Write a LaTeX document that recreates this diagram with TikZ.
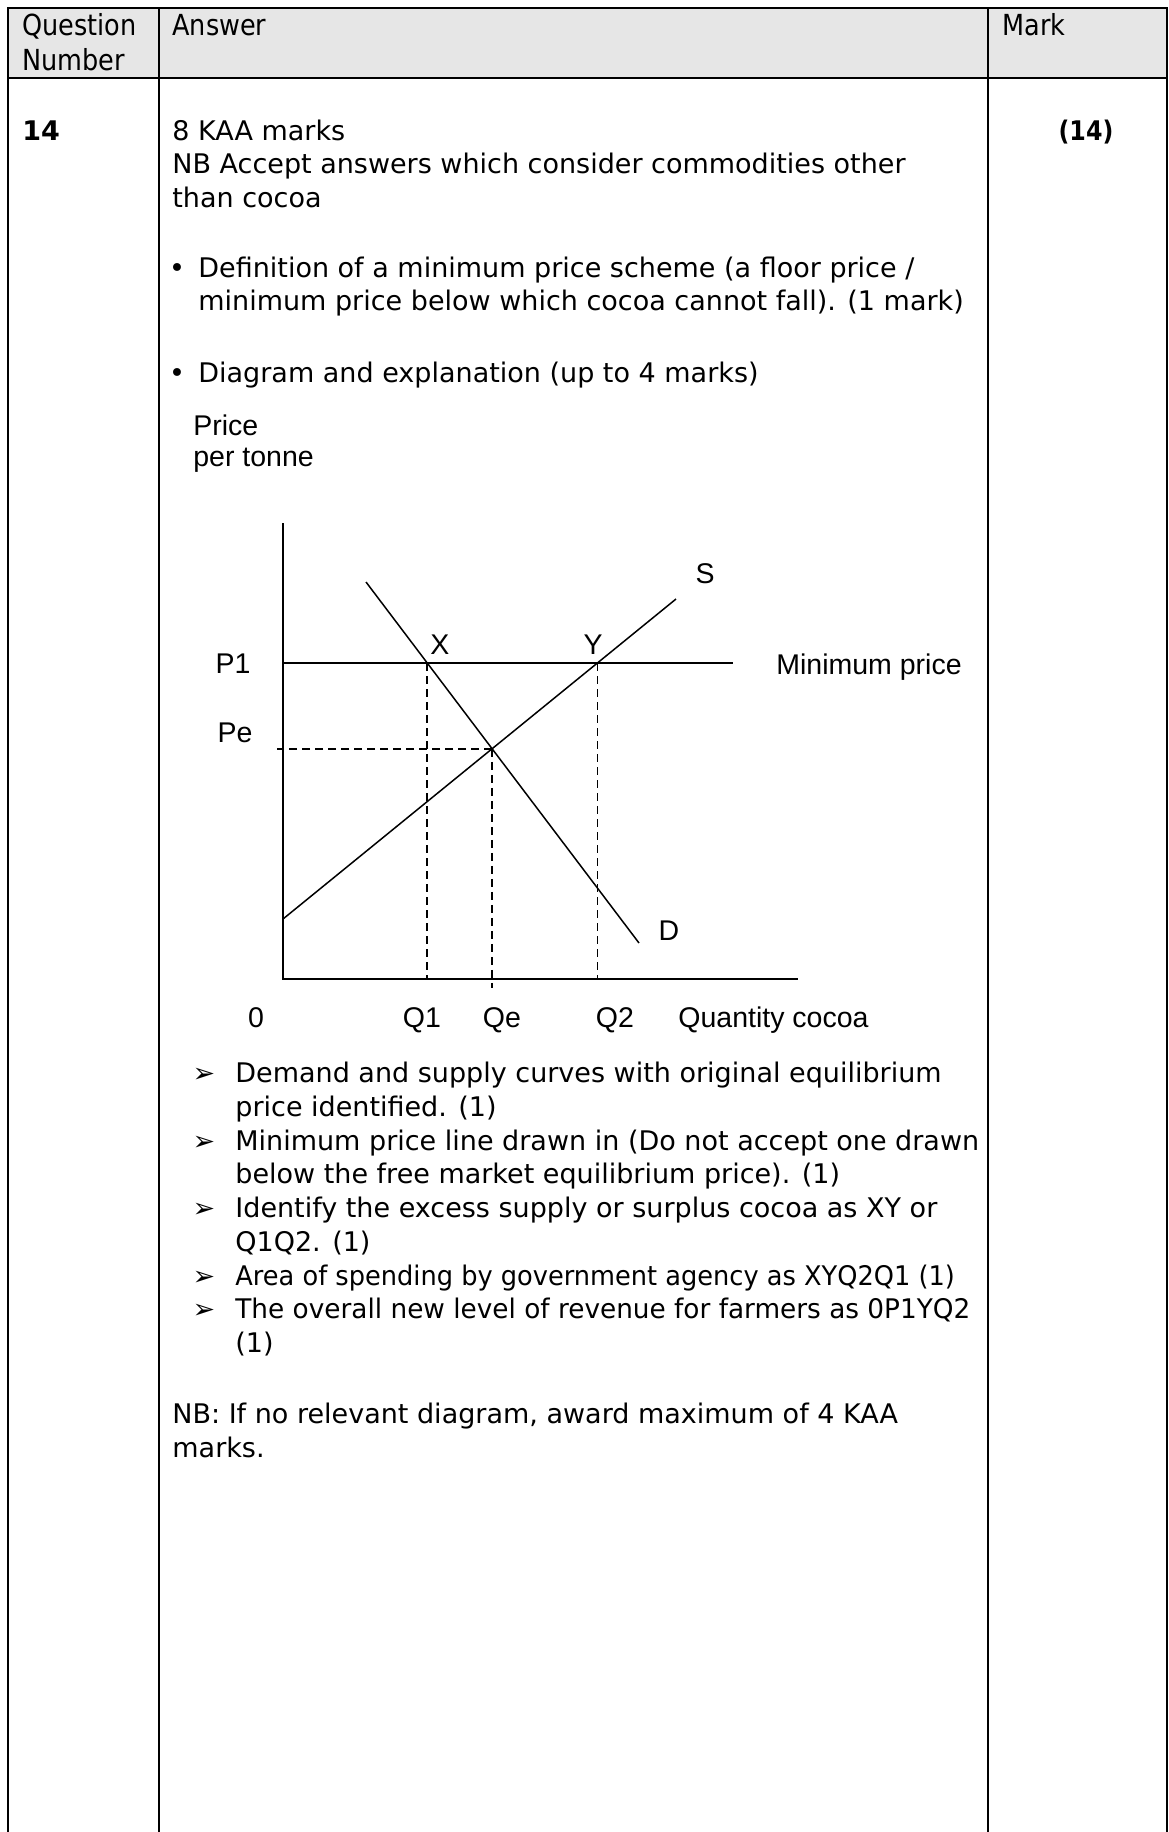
\documentclass[tikz,border=0pt]{standalone}
\usepackage{fontspec}
\setmainfont{DejaVu Sans}
\newfontfamily\chartfont{Liberation Sans}
\newfontfamily\hdrfont{DejaVu Sans}[FakeStretch=0.88]
\definecolor{hdrgray}{HTML}{E6E6E6}
\begin{document}
\begin{tikzpicture}[x=0.5pt,y=-0.5pt,
  body/.style={font=\fontsize{13.5}{16}\selectfont, anchor=base west, inner sep=0pt},
  hdr/.style={font=\hdrfont\fontsize{14.5}{17}\selectfont, anchor=base west, inner sep=0pt},
  lbl/.style={font=\chartfont\fontsize{14.25}{16}\selectfont, inner sep=0pt, anchor=base},
  lblw/.style={font=\chartfont\fontsize{14.25}{16}\selectfont, inner sep=0pt, anchor=base west},
  chartline/.style={line width=0.75pt},
  guide/.style={line width=0.8pt, dash pattern=on 4pt off 2.5pt},
  tablerule/.style={line width=1.2pt}]
\useasboundingbox (0,0) rectangle (1168,1832);
% table
\fill[hdrgray] (8,8) rectangle (1167,78);
\draw[tablerule] (8,1832) -- (8,8) -- (1167,8) -- (1167,1832);
\draw[tablerule] (8,78) -- (1167,78);
\draw[tablerule] (159,8) -- (159,1832);
\draw[tablerule] (988,8) -- (988,1832);
% header
\node[hdr] (hq1) at (22,35.5) {Question};
\node[hdr] (hq2) at (22,70.5) {Number};
\node[hdr] (ha) at (172,35.5) {Answer};
\node[hdr] (hm) at (1002,35.5) {Mark};
% question number and mark
\node[font=\bfseries\fontsize{13.5}{16}\selectfont, inner sep=0pt, anchor=base west] (qn) at (22,140) {14};
\node[font=\hdrfont\bfseries\fontsize{13.5}{16}\selectfont, inner sep=0pt, anchor=base] (mk) at (1086,140) {(14)};
% answer text
\node[body] (t1) at (172,140) {8 KAA marks};
\node[body] (t2) at (172,173) {NB Accept answers which consider commodities other};
\node[body] (t3) at (172,207) {than cocoa};
\node[body, anchor=base] (bul1) at (177,277) {•};
\node[body] (t4) at (198,277) {Definition of a minimum price scheme (a floor price /};
\node[body] (t5) at (198,310) {minimum price below which cocoa cannot fall). (1 mark)};
\node[body, anchor=base] (bul2) at (177,382) {•};
\node[body] (t6) at (198,382) {Diagram and explanation (up to 4 marks)};
% chart
\node[lblw] (price1) at (193,435) {Price};
\node[lblw] (price2) at (193,466) {per tonne};
\coordinate (O) at (283,979);
\coordinate (Ytop) at (283,523);
\coordinate (Xend) at (798,979);
\coordinate (P1l) at (283,663);
\coordinate (P1r) at (733,663);
\coordinate (S0) at (283,919);
\coordinate (S1) at (676,599);
\coordinate (D0) at (366,582);
\coordinate (D1) at (639,943);
\coordinate (PeL) at (277,0);
\coordinate (QeB) at (0,988);
\coordinate (X) at (intersection of D0--D1 and P1l--P1r);
\coordinate (Y) at (intersection of S0--S1 and P1l--P1r);
\coordinate (E) at (intersection of S0--S1 and D0--D1);
\draw[guide] (E) -- (E -| PeL);
\draw[guide] (X) -- (X |- O);
\draw[guide] (Y) -- (Y |- O);
\draw[guide] (E) -- (E |- QeB);
\draw[chartline] (Ytop) -- (O) -- (Xend);
\draw[chartline] (P1l) -- (P1r);
\draw[chartline] (S0) -- (S1);
\draw[chartline] (D0) -- (D1);
\node[lbl] (lP1) at (233,673) {P1};
\node[lbl] (lPe) at (235,742) {Pe};
\node[lbl] (lX) at (440,654) {X};
\node[lbl] (lY) at (593,654) {Y};
\node[lbl] (lS) at (705,583) {S};
\node[lbl] (lD) at (669,940) {D};
\node[lblw] (lMin) at (776,674) {Minimum price};
\node[lbl] (l0) at (256,1027) {0};
\node[lbl] (lQ1) at (422,1027) {Q1};
\node[lbl] (lQe) at (502,1027) {Qe};
\node[lbl] (lQ2) at (615,1027) {Q2};
\node[lblw] (lQty) at (678,1027) {Quantity cocoa};
% criteria list
\node[body, anchor=base] (a1) at (204,1082) {➢};
\node[body] (c1) at (235,1082) {Demand and supply curves with original equilibrium};
\node[body] (c2) at (235,1116) {price identified. (1)};
\node[body, anchor=base] (a2) at (204,1150) {➢};
\node[body] (c3) at (235,1150) {Minimum price line drawn in (Do not accept one drawn};
\node[body] (c4) at (235,1183) {below the free market equilibrium price). (1)};
\node[body, anchor=base] (a3) at (204,1217) {➢};
\node[body] (c5) at (235,1217) {Identify the excess supply or surplus cocoa as XY or};
\node[body] (c6) at (235,1251) {Q1Q2. (1)};
\node[body, anchor=base] (a4) at (204,1285) {➢};
\node[body] (c7) at (235,1285) {\scalebox{0.95}[1]{Area of spending by government agency as XYQ2Q1 (1)}};
\node[body, anchor=base] (a5) at (204,1318) {➢};
\node[body] (c8) at (235,1318) {\scalebox{0.975}[1]{The overall new level of revenue for farmers as 0P1YQ2}};
\node[body] (c9) at (235,1352) {(1)};
\node[body] (n1) at (172,1423) {NB: If no relevant diagram, award maximum of 4 KAA};
\node[body] (n2) at (172,1457) {marks.};
\end{tikzpicture}
\end{document}
